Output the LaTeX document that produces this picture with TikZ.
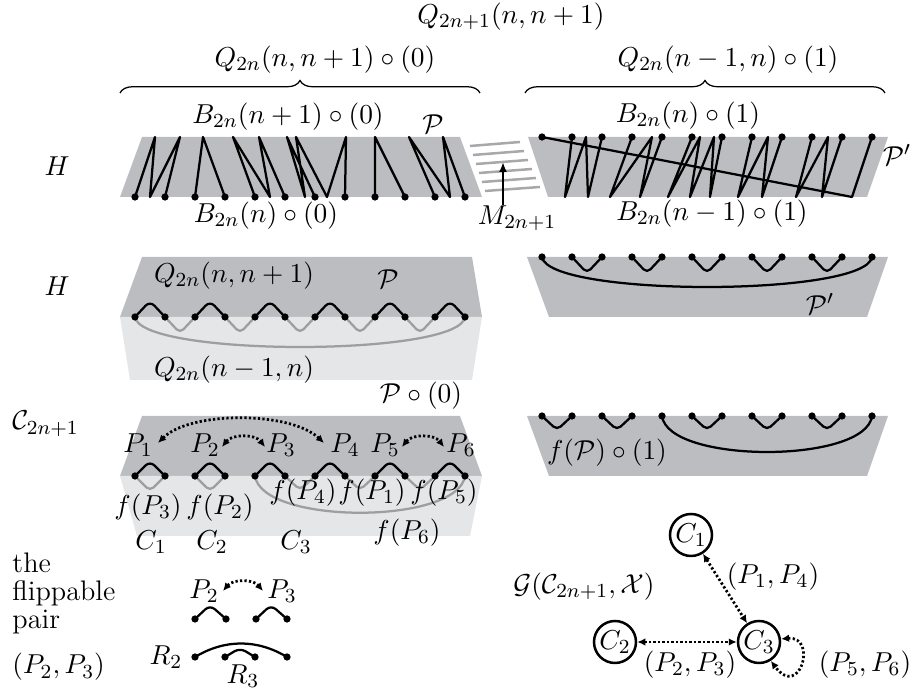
\documentclass[tikz,border=0pt]{standalone}
\usetikzlibrary{arrows.meta,decorations.pathreplacing}
\definecolor{dk}{RGB}{188,189,192}
\definecolor{lt}{RGB}{229,230,232}
\definecolor{gl}{RGB}{158,158,160}
\definecolor{ml}{RGB}{168,168,170}
\begin{document}
\begin{tikzpicture}[x=0.4pt,y=-0.4pt,
  lbl/.style={inner sep=0pt,font=\fontsize{11.3}{13.5}\selectfont},
  bk/.style={line width=0.9pt,line join=round,line cap=round},
  gr/.style={line width=0.9pt,draw=gl,line join=round,line cap=round},
  darr/.style={line width=1.1pt,dash pattern=on 0.9pt off 0.9pt,{Latex[length=3.2pt,width=3pt]}-{Latex[length=3.2pt,width=3pt]}},
  vtx/.style={circle,draw=black,line width=1pt,minimum size=16.8pt,inner sep=0pt,font=\fontsize{11.3}{13.5}\selectfont},
  brc/.style={decorate,decoration={brace,amplitude=5pt},line width=0.5pt}
]
\useasboundingbox (0,0) rectangle (915,690);

% ---------- top labels and braces
\node[lbl] (qtop) at (511,17) {$Q_{2n+1}(n,n+1)$};
\node[lbl] (qL) at (325,60) {$Q_{2n}(n,n+1)\circ(0)$};
\node[lbl] (qR) at (728,60) {$Q_{2n}(n-1,n)\circ(1)$};
\draw[brc] (120,93) -- (480,93);
\draw[brc] (525,93) -- (885,93);

% ---------- row 1 left
\fill[dk] (142,137) -- (460,137) -- (482,197) -- (120,197) -- cycle;
\draw[bk] (135,197) -- (155,137) -- (150,197) -- (180,137) -- (165,197);
\draw[bk] (195,197) -- (203,137) -- (225,197);
\draw[bk] (255,197) -- (233,137) -- (270,197) -- (259,137) -- (285,197);
\draw[bk] (315,197) -- (287,137) -- (305,197) -- (296,137) -- (327,197) -- (346,137) -- (345,197);
\draw[bk] (375,197) -- (375,137) -- (405,197);
\draw[bk] (435,197) -- (409,137) -- (450,197) -- (443,137) -- (465,197);
\foreach \x in {135,165,...,465} \fill (\x,197) circle[radius=1.45pt];
\node[lbl] (bL1) at (288,117) {$B_{2n}(n+1)\circ(0)$};
\node[lbl] (pL1) at (433,124) {$\mathcal{P}$};
\node[lbl] (bL0) at (266,216) {$B_{2n}(n)\circ(0)$};
\node[lbl] (h1) at (57,166) {$H$};

% ---------- matching M
\foreach \k in {0,...,5}
  \draw[ml,line width=1pt] (470+3*\k,146+9*\k) -- (520+4*\k,142+9*\k);
\node[lbl] (m) at (517,218) {$M_{2n+1}$};
\draw[line width=0.9pt,-{Latex[length=4pt,width=3.2pt]}] (m.north -| 503,0) -- (503,162);

% ---------- row 1 right
\fill[dk] (528,137) -- (888,137) -- (867,197) -- (548,197) -- cycle;
\draw[bk] (542,137) -- (852,197) -- (872,137);
\draw[bk] (572,137) -- (565,197) -- (586,137) -- (588,197) -- (602,137);
\draw[bk] (632,137) -- (610,197) -- (652,137) -- (640,197) -- (662,137);
\draw[bk] (692,137) -- (668,197) -- (700,137) -- (690,197) -- (714,137) -- (710,197) -- (722,137);
\draw[bk] (752,137) -- (738,197) -- (768,137) -- (762,197) -- (782,137);
\draw[bk] (812,137) -- (796,197) -- (828,137) -- (822,197) -- (842,137);
\foreach \x in {542,572,...,872} \fill (\x,137) circle[radius=1.45pt];
\node[lbl] (bR1) at (688,116) {$B_{2n}(n)\circ(1)$};
\node[lbl] (bR0) at (712,214) {$B_{2n}(n-1)\circ(1)$};
\node[lbl] (pR1) at (897,155) {$\mathcal{P}'$};

% ---------- row 2 left
\fill[dk] (142,257) -- (472,257) -- (482,317) -- (120,317) -- cycle;
\fill[lt] (120,317) -- (482,317) -- (472,380) -- (130,380) -- cycle;
\draw[gr] (135,317) .. controls (140,357) and (460,357) .. (465,317);
\foreach \x in {165,225,...,405} \draw[gr,rounded corners=2pt] (\x,317) -- (\x+15,333) -- (\x+30,317);
\foreach \x in {135,195,...,435} \draw[bk,rounded corners=2.5pt] (\x,317) -- (\x+15,301) -- (\x+30,317);
\foreach \x in {135,165,...,465} \fill (\x,317) circle[radius=1.45pt];
\node[lbl] (q2a) at (234,276) {$Q_{2n}(n,n+1)$};
\node[lbl] (p2) at (388,279) {$\mathcal{P}$};
\node[lbl] (q2b) at (234,370) {$Q_{2n}(n-1,n)$};
\node[lbl] (h2) at (57,286) {$H$};

% ---------- row 2 right
\fill[dk] (527,257) -- (888,257) -- (867,317) -- (549,317) -- cycle;
\draw[bk] (542,257) .. controls (548,297) and (866,297) .. (872,257);
\foreach \x in {572,632,...,812} \draw[bk,rounded corners=2pt] (\x,257) -- (\x+15,273) -- (\x+30,257);
\foreach \x in {542,572,...,872} \fill (\x,257) circle[radius=1.45pt];
\node[lbl] (pR2) at (820,304) {$\mathcal{P}'$};

% ---------- row 3 left
\fill[dk] (142,416) -- (460,416) -- (482,476) -- (120,476) -- cycle;
\fill[lt] (120,476) -- (482,476) -- (470,536) -- (137,536) -- cycle;
\foreach \x in {135,195} \draw[gr,rounded corners=2pt] (\x,476) -- (\x+15,491) -- (\x+30,476);
\foreach \x in {285,345,405} \draw[gr,rounded corners=2pt] (\x,476) -- (\x+15,490) -- (\x+30,476);
\draw[gr] (255,476) .. controls (262,525) and (458,525) .. (465,476);
\foreach \x in {135,195,...,435} \draw[bk,rounded corners=2.5pt] (\x,476) -- (\x+15,461) -- (\x+30,476);
\foreach \x in {135,165,...,465} \fill (\x,476) circle[radius=1.45pt];
\node[lbl,anchor=base west] (cc) at (12,430) {$\mathcal{C}_{2n+1}$};
\node[lbl] (p0) at (421,396) {$\mathcal{P}\circ(0)$};
\node[lbl] (P1) at (138,445) {$P_1$};
\node[lbl] (P2) at (205,445) {$P_2$};
\node[lbl] (P3) at (281,445) {$P_3$};
\node[lbl] (P4) at (345,445) {$P_4$};
\node[lbl] (P5) at (385,445) {$P_5$};
\node[lbl] (P6) at (461,445) {$P_6$};
\coordinate (a1) at (158,443); \coordinate (a4) at (324,443);
\coordinate (a2) at (222,447); \coordinate (a3) at (265,447);
\coordinate (a5) at (402,447); \coordinate (a6) at (444,447);
\draw[darr] (a1) .. controls (190,411) and (290,411) .. (a4);
\draw[darr] (a2) .. controls (232,434) and (255,434) .. (a3);
\draw[darr] (a5) .. controls (412,434) and (434,434) .. (a6);
\node[lbl] (f3) at (148,508) {$f(P_3)$};
\node[lbl] (f2) at (220,508) {$f(P_2)$};
\node[lbl] (f4) at (303,493) {$f(P_4)$};
\node[lbl] (f1) at (372,493) {$f(P_1)$};
\node[lbl] (f5) at (444,493) {$f(P_5)$};
\node[lbl] (f6) at (407,533) {$f(P_6)$};
\node[lbl] (c1) at (151,542) {$C_1$};
\node[lbl] (c2) at (212,542) {$C_2$};
\node[lbl] (c3) at (296,542) {$C_3$};

% ---------- row 3 right
\fill[dk] (527,416) -- (888,416) -- (867,476) -- (549,476) -- cycle;
\foreach \x in {542,602,692,752,812} \draw[bk,rounded corners=2pt] (\x,416) -- (\x+15,430) -- (\x+30,416);
\draw[bk] (662,416) .. controls (668,464) and (866,464) .. (872,416);
\foreach \x in {542,572,...,872} \fill (\x,416) circle[radius=1.45pt];
\node[lbl] (fp) at (607,453) {$f(\mathcal{P})\circ(1)$};

% ---------- flippable pair
\node[lbl,anchor=base west] (t1) at (12,573) {the};
\node[lbl,anchor=base west] (t2) at (12,601) {flippable};
\node[lbl,anchor=base west] (t3) at (12,629) {pair};
\node[lbl,anchor=base west] (t4) at (12,674) {$(P_2,P_3)$};
\node[lbl] (q2) at (204,591) {$P_2$};
\node[lbl] (q3) at (282,591) {$P_3$};
\coordinate (b2) at (223,591); \coordinate (b3) at (263,591);
\draw[darr] (b2) .. controls (233,579) and (253,579) .. (b3);
\draw[bk,rounded corners=2.5pt] (195,619) -- (210,605) -- (226,619);
\draw[bk,rounded corners=2.5pt] (256,619) -- (271,605) -- (287,619);
\draw[bk] (195,657) .. controls (225,639) and (257,639) .. (287,657);
\draw[bk,rounded corners=2.5pt] (225,657) -- (240,648) -- (255,657);
\foreach \x in {195,226,256,287} \fill (\x,619) circle[radius=1.45pt];
\foreach \x in {195,225,255,287} \fill (\x,657) circle[radius=1.45pt];
\node[lbl] (r2) at (166,657) {$R_2$};
\node[lbl] (r3) at (243,676) {$R_3$};

% ---------- graph
\node[vtx] (g1) at (691,535) {$C_1$};
\node[vtx] (g2) at (615,642) {$C_2$};
\node[vtx] (g3) at (759,642) {$C_3$};
\node[lbl] (gl) at (584,587) {$\mathcal{G}(\mathcal{C}_{2n+1},\mathcal{X})$};
\draw[darr] (g1) -- (g3);
\draw[darr] (g2) -- (g3);
\draw[darr] (g3.8) .. controls (818,636) and (800,700) .. (g3.-58);
\node[lbl] (e14) at (773,577) {$(P_1,P_4)$};
\node[lbl] (e23) at (690,665) {$(P_2,P_3)$};
\node[lbl] (e56) at (865,665) {$(P_5,P_6)$};
\end{tikzpicture}
\end{document}
